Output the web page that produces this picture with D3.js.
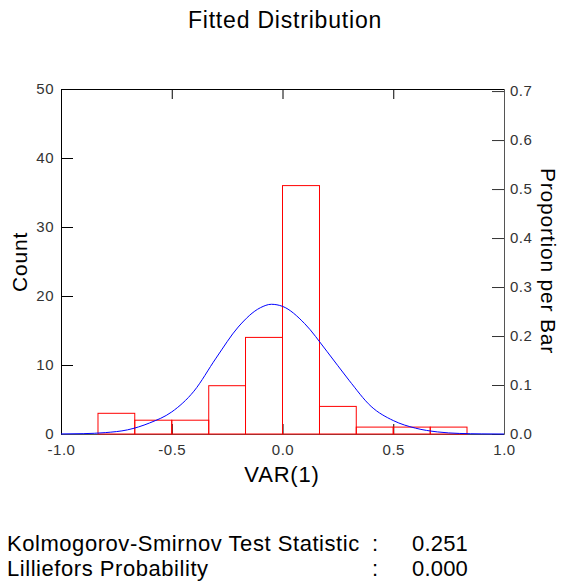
<!DOCTYPE html>
<html>
<head>
<meta charset="utf-8">
<script src="https://cdn.jsdelivr.net/npm/d3@7"></script>
<style>
  body { margin: 0; background: #fff; }
  svg { font-family: "Liberation Sans", Arial, sans-serif; }
  .tick text { fill: #333; font-size: 15px; letter-spacing: 0.5px; }
</style>
</head>
<body>
<svg width="561" height="588"></svg>
<script>
//data
const binEdges = [-0.833, -0.667, -0.5, -0.333, -0.167, 0, 0.167, 0.333, 0.5, 0.667, 0.833];
const counts = [3, 2, 2, 7, 14, 36, 4, 1, 1, 1];

// fitted normal curve (count scale)
const curveX = [-1.0, -0.9, -0.8, -0.7, -0.6, -0.5, -0.4, -0.3, -0.2, -0.1, -0.05, 0.0, 0.1, 0.2, 0.3, 0.4, 0.5, 0.6, 0.7, 0.8, 0.9, 1.0];
const curveY = [0.01, 0.05, 0.2, 0.6, 1.6, 3.2, 6.2, 11.0, 15.5, 18.3, 18.8, 18.5, 16.0, 12.0, 7.8, 4.0, 1.95, 0.85, 0.3, 0.08, 0.02, 0.0];

const xTicks = [-1.0, -0.5, 0.0, 0.5, 1.0];
const countTicks = [0, 10, 20, 30, 40, 50];
const propTicks = [0.0, 0.1, 0.2, 0.3, 0.4, 0.5, 0.6, 0.7];

const statLabels = ["Kolmogorov-Smirnov Test Statistic", "Lilliefors Probability"];
const statValues = ["0.251", "0.000"];

//constants
const margin = {top: 89, left: 61};
const width = 443;
const height = 345;
const total = d3.sum(counts);
const fmt = d => d.toFixed(1);   // plain hyphen minus like the original

const svg = d3.select("svg");
const g = svg.append("g")
    .attr("transform", "translate(" + margin.left + "," + margin.top + ")");

//scales
const xScale = d3.scaleLinear().domain([-1, 1]).range([0, width]);
const yScale = d3.scaleLinear().domain([0, 50]).range([height, 0]);
const pScale = d3.scaleLinear().domain([0, 50 / total]).range([height, 0]);

//title
svg.append("text")
    .attr("x", 285)
    .attr("y", 28)
    .attr("text-anchor", "middle")
    .style("font-size", "23px")
    .style("letter-spacing", "0.8px")
    .text("Fitted Distribution");

//axes
const gLeft = g.append("g")
    .call(d3.axisLeft(yScale).tickValues(countTicks).tickSize(-12).tickPadding(7).tickSizeOuter(0));

const gTop = g.append("g")
    .call(d3.axisTop(xScale).tickValues([-0.5, 0, 0.5]).tickSize(-10).tickFormat("").tickSizeOuter(0));

const gBottom = g.append("g")
    .attr("transform", "translate(0," + height + ")")
    .call(d3.axisBottom(xScale).tickValues(xTicks).tickSize(-10).tickPadding(10).tickSizeOuter(0)
        .tickFormat(fmt));
gBottom.select(".domain").attr("stroke", "#555");

const gRight = g.append("g")
    .attr("transform", "translate(" + width + ",0)")
    .call(d3.axisRight(pScale).tickValues(propTicks).tickSize(-12).tickPadding(6).tickSizeOuter(0)
        .tickFormat(fmt));
gRight.select(".domain").attr("stroke", "#555");
gRight.selectAll(".tick line").attr("stroke", "#333");

g.selectAll("g").attr("font-family", null).attr("font-size", null);

//bars
const bins = counts.map((c, i) => ({x0: binEdges[i], x1: binEdges[i + 1], n: c}));
g.selectAll(".bar")
    .data(bins)
    .enter()
    .append("rect")
    .attr("class", "bar")
    .attr("x", d => xScale(d.x0))
    .attr("y", d => yScale(d.n))
    .attr("width", d => xScale(d.x1) - xScale(d.x0))
    .attr("height", d => height - yScale(d.n))
    .attr("fill", "none")
    .attr("stroke", "#ff0000")
    .attr("stroke-width", 1);

//curve
const line = d3.line()
    .x(d => xScale(d[0]))
    .y(d => yScale(d[1]))
    .curve(d3.curveMonotoneX);

g.append("path")
    .datum(curveX.map((x, i) => [x, curveY[i]]))
    .attr("d", line)
    .attr("fill", "none")
    .attr("stroke", "#0000ff")
    .attr("stroke-width", 1);

//axes labels
svg.append("text")
    .attr("x", 282)
    .attr("y", 482)
    .attr("text-anchor", "middle")
    .style("font-size", "22px")
    .style("letter-spacing", "0.8px")
    .text("VAR(1)");

svg.append("text")
    .attr("transform", "translate(27,262) rotate(-90)")
    .attr("text-anchor", "middle")
    .style("font-size", "21px")
    .style("letter-spacing", "0.8px")
    .text("Count");

svg.append("text")
    .attr("transform", "translate(541,261) rotate(90)")
    .attr("text-anchor", "middle")
    .style("font-size", "21px")
    .style("letter-spacing", "0.8px")
    .text("Proportion per Bar");

//stats
const stats = svg.append("g");
statLabels.forEach((s, i) => {
    const y = 551 + i * 25;
    stats.append("text").attr("x", 7).attr("y", y)
        .style("font-size", "22px").style("letter-spacing", "0.55px").text(s);
    stats.append("text").attr("x", 372).attr("y", y)
        .style("font-size", "22px").text(":");
    stats.append("text").attr("x", 412).attr("y", y)
        .style("font-size", "22px").style("letter-spacing", "0.2px").text(statValues[i]);
});
</script>
</body>
</html>
